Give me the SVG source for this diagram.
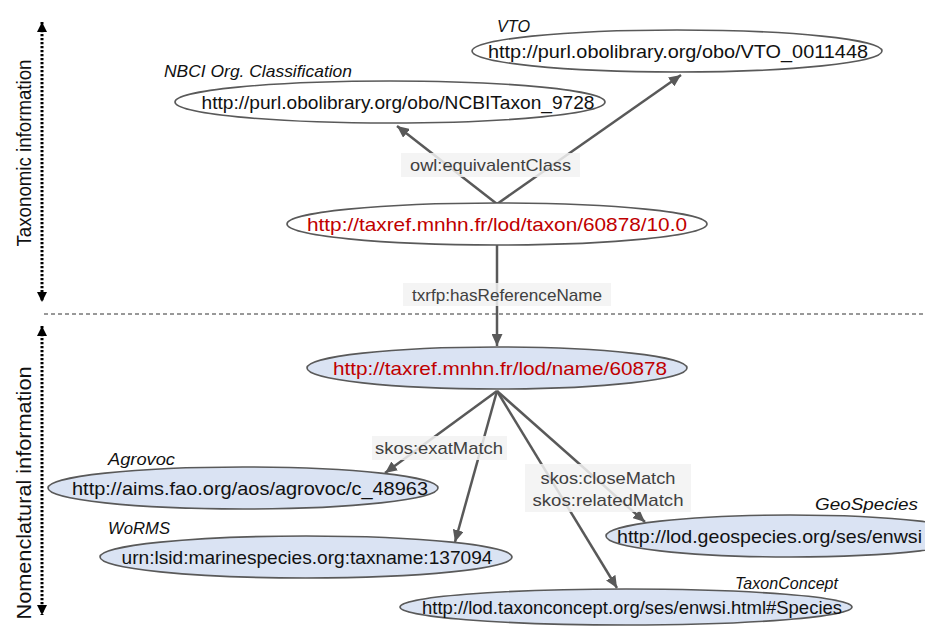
<svg xmlns="http://www.w3.org/2000/svg" width="925" height="627" viewBox="0 0 925 627">
<style>
.t{font-family:"Liberation Sans",Arial,sans-serif;font-size:19px;fill:#111}
.red{fill:#c00000}
.lab{font-family:"Liberation Sans",Arial,sans-serif;font-size:16.5px;font-style:italic;fill:#111}
.el{font-family:"Liberation Sans",Arial,sans-serif;font-size:17px;fill:#404040}
.ew{fill:#ffffff;stroke:#595959;stroke-width:1.6}
.eb{fill:#dae3f3;stroke:#595959;stroke-width:1.6}
.box{fill:#f2f2f2;fill-opacity:0.85}
.edge{stroke:#595959;stroke-width:2.5;fill:none;marker-end:url(#arr)}
.side{font-family:"Liberation Sans",Arial,sans-serif;font-size:20px;fill:#111}
</style>
<defs>
<marker id="arr" markerUnits="userSpaceOnUse" markerWidth="13" markerHeight="11" refX="12" refY="5.5" orient="auto">
<path d="M0,0 L12,5.5 L0,11 z" fill="#595959"/>
</marker>
<marker id="blk" markerUnits="userSpaceOnUse" markerWidth="11" markerHeight="10" refX="10" refY="5" orient="auto-start-reverse">
<path d="M0,0 L10,5 L0,10 z" fill="#000"/>
</marker>
</defs>

<g id="sides">
<line x1="42" y1="22" x2="42" y2="302" stroke="#000" stroke-width="3" stroke-dasharray="2.2 1.8" marker-start="url(#blk)" marker-end="url(#blk)"/>
<line x1="42" y1="326" x2="42" y2="615" stroke="#000" stroke-width="3" stroke-dasharray="2.2 1.8" marker-start="url(#blk)" marker-end="url(#blk)"/>
<text class="side" transform="translate(31,153) rotate(-90)" text-anchor="middle" textLength="187" lengthAdjust="spacingAndGlyphs">Taxonomic information</text>
<text class="side" transform="translate(31,493) rotate(-90)" text-anchor="middle" textLength="253" lengthAdjust="spacingAndGlyphs">Nomenclatural information</text>
<line x1="44" y1="314" x2="925" y2="314" stroke="#333" stroke-width="1" stroke-dasharray="4 3"/>
</g>

<g id="connectors">
<line class="edge" x1="497" y1="204" x2="397" y2="126"/>
<line class="edge" x1="497" y1="204" x2="681" y2="75"/>
<line class="edge" x1="497" y1="245" x2="497" y2="346"/>
<line class="edge" x1="497" y1="391" x2="385" y2="473"/>
<line class="edge" x1="497" y1="391" x2="455" y2="542"/>
<line class="edge" x1="497" y1="391" x2="617" y2="588"/>
<line class="edge" x1="497" y1="391" x2="645" y2="522"/>
<rect class="box" x="401" y="153" width="179" height="24"/>
<text class="el" x="490.5" y="171" text-anchor="middle" textLength="161" lengthAdjust="spacingAndGlyphs">owl:equivalentClass</text>
<rect class="box" x="403" y="283" width="208" height="23"/>
<text class="el" x="507" y="301" text-anchor="middle" textLength="190" lengthAdjust="spacingAndGlyphs">txrfp:hasReferenceName</text>
<rect class="box" x="372" y="436" width="135" height="24"/>
<text class="el" x="439" y="454" text-anchor="middle" textLength="128" lengthAdjust="spacingAndGlyphs">skos:exatMatch</text>
<rect class="box" x="525" y="464" width="166" height="48"/>
<text class="el" x="608" y="484" text-anchor="middle" textLength="135" lengthAdjust="spacingAndGlyphs">skos:closeMatch</text>
<text class="el" x="608" y="506" text-anchor="middle" textLength="151" lengthAdjust="spacingAndGlyphs">skos:relatedMatch</text>
</g>

<g id="vto">
<ellipse class="ew" cx="677" cy="51" rx="205" ry="21"/>
<text class="t" x="678" y="58" text-anchor="middle" textLength="380" lengthAdjust="spacingAndGlyphs">http://purl.obolibrary.org/obo/VTO_0011448</text>
<text class="lab" x="497" y="32" textLength="33" lengthAdjust="spacingAndGlyphs">VTO</text>
</g>

<g id="ncbi">
<ellipse class="ew" cx="390" cy="102" rx="215" ry="21"/>
<text class="t" x="398" y="109" text-anchor="middle" textLength="393" lengthAdjust="spacingAndGlyphs">http://purl.obolibrary.org/obo/NCBITaxon_9728</text>
<text class="lab" x="164" y="77" textLength="188" lengthAdjust="spacingAndGlyphs">NBCI Org. Classification</text>
</g>

<g id="taxon">
<ellipse class="ew" cx="497" cy="224" rx="210" ry="21"/>
<text class="t red" x="497" y="231" text-anchor="middle" textLength="380" lengthAdjust="spacingAndGlyphs">http://taxref.mnhn.fr/lod/taxon/60878/10.0</text>
</g>

<g id="name">
<ellipse class="eb" cx="497" cy="368" rx="190" ry="21"/>
<text class="t red" x="500" y="375" text-anchor="middle" textLength="334" lengthAdjust="spacingAndGlyphs">http://taxref.mnhn.fr/lod/name/60878</text>
</g>

<g id="agrovoc">
<ellipse class="eb" cx="243" cy="488" rx="195" ry="21"/>
<text class="t" x="250" y="495" text-anchor="middle" textLength="356" lengthAdjust="spacingAndGlyphs">http://aims.fao.org/aos/agrovoc/c_48963</text>
<text class="lab" x="108" y="465" textLength="67" lengthAdjust="spacingAndGlyphs">Agrovoc</text>
</g>

<g id="worms">
<ellipse class="eb" cx="306" cy="557" rx="206" ry="21"/>
<text class="t" x="307" y="564" text-anchor="middle" textLength="371" lengthAdjust="spacingAndGlyphs">urn:lsid:marinespecies.org:taxname:137094</text>
<text class="lab" x="108" y="534" textLength="62" lengthAdjust="spacingAndGlyphs">WoRMS</text>
</g>

<g id="geospecies">
<ellipse class="eb" cx="790" cy="536" rx="184" ry="21"/>
<text class="t" x="617" y="543" textLength="305" lengthAdjust="spacingAndGlyphs">http://lod.geospecies.org/ses/enwsi</text>
<text class="lab" x="815" y="510" textLength="103" lengthAdjust="spacingAndGlyphs">GeoSpecies</text>
</g>

<g id="taxonconcept">
<ellipse class="eb" cx="626" cy="607" rx="226" ry="18"/>
<text class="t" x="632" y="614" text-anchor="middle" font-size="17" textLength="420" lengthAdjust="spacingAndGlyphs">http://lod.taxonconcept.org/ses/enwsi.html#Species</text>
<text class="lab" x="735" y="589" textLength="103" lengthAdjust="spacingAndGlyphs">TaxonConcept</text>
</g>
</svg>
